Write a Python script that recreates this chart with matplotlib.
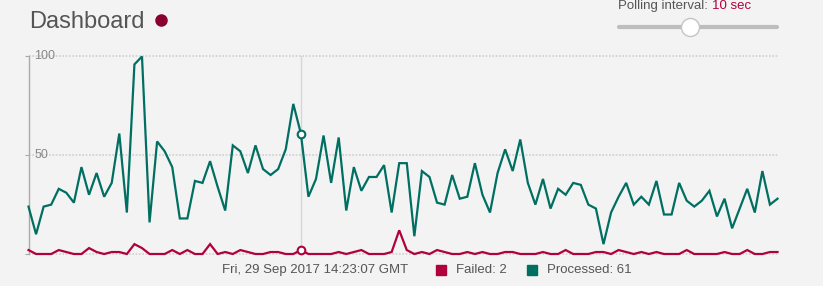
import matplotlib
matplotlib.use("Agg")
import matplotlib.pyplot as plt
from matplotlib.lines import Line2D

# ---- data ----
processed = [24, 10, 24, 25, 33, 31, 26, 44, 30, 41,
             29, 36, 61, 21, 96, 100, 16, 57, 52, 44,
             18, 18, 37, 36, 47, 34, 22, 55, 52, 41,
             55, 43, 40, 43, 53, 76, 61, 29, 38, 60,
             36, 59, 22, 44, 32, 39, 39, 45, 21, 46,
             46, 9, 42, 39, 26, 25, 40, 28, 29, 46,
             30, 21, 41, 53, 42, 58, 36, 25, 38, 23,
             33, 30, 36, 35, 25, 23, 5, 21, 29, 36,
             25, 29, 25, 37, 20, 20, 36, 27, 24, 27,
             32, 19, 28, 13, 23, 33, 21, 42, 25, 28]
failed = [2, 0, 0, 0, 2, 1, 0, 0, 3, 1,
          0, 1, 1, 0, 5, 3, 0, 0, 0, 2,
          0, 2, 0, 0, 5, 0, 1, 0, 2, 1,
          0, 0, 1, 1, 0, 0, 2, 0, 0, 0,
          0, 1, 0, 1, 2, 0, 0, 0, 1, 12,
          2, 0, 1, 0, 2, 1, 0, 0, 1, 0,
          1, 0, 0, 1, 1, 0, 0, 0, 1, 0,
          0, 2, 0, 0, 0, 1, 1, 0, 2, 1,
          0, 1, 0, 1, 0, 0, 0, 2, 0, 0,
          0, 0, 1, 0, 0, 2, 0, 0, 1, 1]
ytick_values = [50, 100]
hover_index = 36
hover_label = "Fri, 29 Sep 2017 14:23:07 GMT"
title = "Dashboard"
poll_label = "Polling interval: "
poll_value = "10 sec"

GREEN = "#006f62"
RED = "#b1003e"
TXT = "#555555"
BG = "#f3f3f3"

W, H = 823, 286
fig = plt.figure(figsize=(W / 100, H / 100), dpi=100, facecolor=BG)
plt.rcParams['font.family'] = ['Liberation Sans', 'DejaVu Sans']

def fx(px):
    return px / W

def fy(py):
    return 1 - py / H

ax = fig.add_axes([fx(28.5), fy(254), fx(777.5) - fx(28.5), fy(56.5) - fy(254)])
ax.set_facecolor(BG)
x = list(range(len(processed)))
ax.set_xlim(0, len(processed) - 1)
ax.set_ylim(0, 100)

for v in [0] + ytick_values:
    ax.axhline(v, color="#cfcfcf", lw=1.2, linestyle=(0, (1, 1)), zorder=1, clip_on=False)

ax.axvline(hover_index, color="#d6d6d6", lw=1, zorder=2)

ax.plot(x, processed, color=GREEN, lw=1.6, zorder=3, clip_on=False, solid_joinstyle='miter')
ax.plot(x, failed, color=RED, lw=1.6, zorder=3, clip_on=False, solid_joinstyle='miter')
ax.plot([hover_index], [processed[hover_index]], 'o', mfc='white', mec=GREEN, mew=1.5, ms=5.5, zorder=4)
ax.plot([hover_index], [failed[hover_index]], 'o', mfc='white', mec=RED, mew=1.5, ms=5.5, zorder=4, clip_on=False)

for s in ['top', 'right', 'bottom']:
    ax.spines[s].set_visible(False)
ax.spines['left'].set_color('#aaaaaa')
ax.spines['left'].set_linewidth(1)
ax.set_xticks([])
ax.set_yticks([0] + ytick_values)
ax.tick_params(axis='y', length=3, color='#aaaaaa', labelleft=False)
for v in ytick_values:
    ax.annotate(str(v), xy=(0, v), xytext=(4, 0), textcoords='offset points',
                ha='left', va='center', fontsize=9, color='#888888', zorder=5)

# header
fig.text(fx(29), fy(22), title, fontsize=17, color=TXT, ha='left', va='center')
fig.add_artist(Line2D([fx(161)], [fy(20)], marker='o', ms=8, color='#8a0030',
                      mec='#8a0030', transform=fig.transFigure))

t1 = fig.text(fx(618), fy(9), poll_label, fontsize=9.5, color=TXT, ha='left', va='baseline')
fig.canvas.draw()
bb = t1.get_window_extent()
fig.text(bb.x1 / W, fy(9), poll_value, fontsize=9.5, color=RED, ha='left', va='baseline')

fig.add_artist(Line2D([fx(619), fx(777)], [fy(27), fy(27)], lw=3, color='#bdbdbd',
                      solid_capstyle='round', transform=fig.transFigure))
fig.add_artist(Line2D([fx(690)], [fy(27)], marker='o', ms=13, mfc='white', mec='#c4c4c4',
                      mew=1, transform=fig.transFigure))

# bottom legend
fig.text(fx(222), fy(270), hover_label, fontsize=9.5, color=TXT, ha='left', va='center')
fig.add_artist(Line2D([fx(441)], [fy(270)], marker='s', ms=7, color=RED, transform=fig.transFigure))
fig.text(fx(456), fy(270), "Failed: %d" % failed[hover_index], fontsize=9.5, color=TXT, ha='left', va='center')
fig.add_artist(Line2D([fx(532)], [fy(270)], marker='s', ms=7, color=GREEN, transform=fig.transFigure))
fig.text(fx(547), fy(270), "Processed: %d" % processed[hover_index], fontsize=9.5, color=TXT, ha='left', va='center')

fig.savefig("out.png", dpi=100, facecolor=BG)
